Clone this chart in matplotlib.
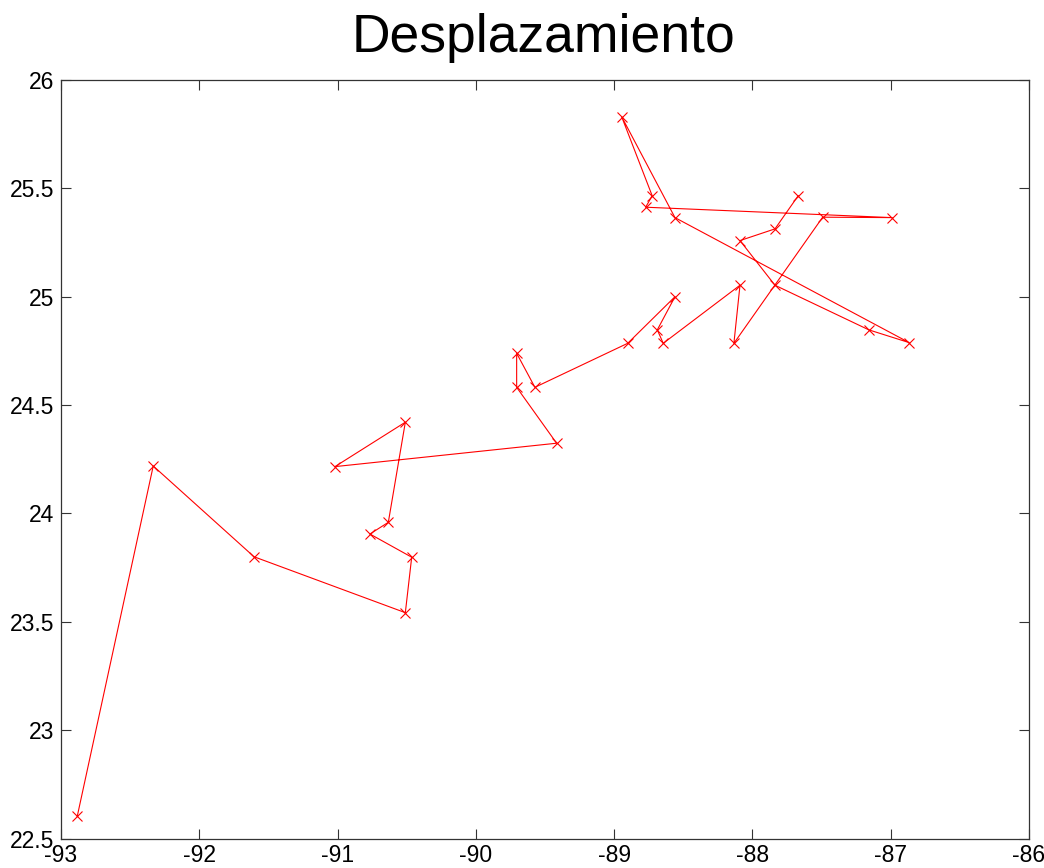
import matplotlib
matplotlib.use("Agg")
import matplotlib.pyplot as plt

# Track of the displacement (longitude, latitude), in visiting order
lon = [-92.882, -92.333, -91.604, -90.510, -90.464, -90.766, -90.633, -90.510,
       -91.019, -89.416, -89.705, -89.705, -89.573, -88.902, -88.560, -88.688,
       -88.645, -88.090, -88.134, -87.492, -86.989, -88.772, -88.725, -88.946,
       -88.560, -86.866, -87.158, -87.837, -88.090, -87.837, -87.669]
lat = [22.604, 24.219, 23.800, 23.542, 23.798, 23.905, 23.959, 24.421,
       24.216, 24.324, 24.582, 24.739, 24.582, 24.785, 25.000, 24.847,
       24.785, 25.053, 24.785, 25.367, 25.365, 25.413, 25.466, 25.831,
       25.365, 24.788, 24.847, 25.053, 25.259, 25.313, 25.466]

x_ticks = [-93, -92, -91, -90, -89, -88, -87, -86]
y_ticks = [22.5, 23, 23.5, 24, 24.5, 25, 25.5, 26]
x_labels = ["-93", "-92", "-91", "-90", "-89", "-88", "-87", "-86"]
y_labels = ["22.5", "23", "23.5", "24", "24.5", "25", "25.5", "26"]

plt.rcParams['font.family'] = ['Liberation Sans', 'DejaVu Sans']

fig = plt.figure(figsize=(10.44, 8.68), dpi=100)
ax = fig.add_axes([61 / 1044, 1 - 838.5 / 868, (1029 - 61) / 1044, (838.5 - 80) / 868])

ax.plot(lon, lat, color='red', linewidth=0.8, marker='x', markersize=7.5,
        markeredgewidth=0.8)

ax.set_xlim(-93, -86)
ax.set_ylim(22.5, 26)
ax.set_xticks(x_ticks)
ax.set_xticklabels(x_labels)
ax.set_yticks(y_ticks)
ax.set_yticklabels(y_labels)

ax.tick_params(direction='in', length=7, width=0.8, labelsize=16.5,
               top=True, right=True, color='#333333')
ax.tick_params(axis='x', pad=4)
ax.tick_params(axis='y', pad=5)
for sp in ax.spines.values():
    sp.set_linewidth(0.9)
    sp.set_color('#333333')

fig.text(543 / 1044, 1 - 52 / 868, "Desplazamiento", fontsize=38.5,
         ha='center', va='baseline')

fig.savefig("out.png", dpi=100)
